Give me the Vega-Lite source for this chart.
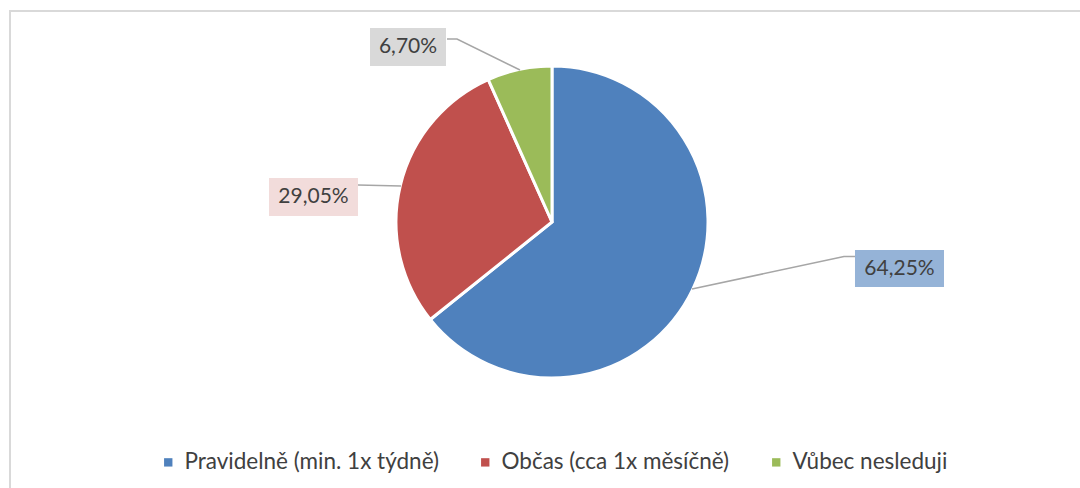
{
  "$schema": "https://vega.github.io/schema/vega-lite/v6.json",
  "width": 1072,
  "height": 479,
  "autosize": "none",
  "padding": {"left": 10, "top": 11, "right": -2, "bottom": -2},
  "background": "white",
  "view": {"stroke": "#d9d9d9", "strokeWidth": 2},
  "config": {"font": "Lato"},
  "datasets": {
    "slices": [
      {"category": "Pravidelně (min. 1x týdně)", "share": 64.25, "idx": 1},
      {"category": "Občas (cca 1x měsíčně)", "share": 29.05, "idx": 2},
      {"category": "Vůbec nesleduji", "share": 6.70, "idx": 3}
    ],
    "labels": [
      {"category": "Pravidelně (min. 1x týdně)", "text": "64,25%", "tx": 224.19, "ty": -30.0, "bx1": 195.48, "bx2": 252.9, "by1": -18.06, "by2": -41.94},
      {"category": "Občas (cca 1x měsíčně)", "text": "29,05%", "tx": -153.87, "ty": 16.13, "bx1": -182.58, "bx2": -125.16, "by1": 28.39, "by2": 3.87},
      {"category": "Vůbec nesleduji", "text": "6,70%", "tx": -92.9, "ty": 112.9, "bx1": -117.42, "bx2": -68.39, "by1": 125.16, "by2": 100.65}
    ],
    "leaders": [
      {"category": "Pravidelně (min. 1x týdně)", "step": 1, "lx": 195.48, "ly": -22.26},
      {"category": "Pravidelně (min. 1x týdně)", "step": 2, "lx": 188.39, "ly": -22.26},
      {"category": "Pravidelně (min. 1x týdně)", "step": 3, "lx": 90.32, "ly": -43.23},
      {"category": "Občas (cca 1x měsíčně)", "step": 1, "lx": -125.16, "ly": 23.87},
      {"category": "Občas (cca 1x měsíčně)", "step": 2, "lx": -97.42, "ly": 23.23},
      {"category": "Vůbec nesleduji", "step": 1, "lx": -67.74, "ly": 118.06},
      {"category": "Vůbec nesleduji", "step": 2, "lx": -61.29, "ly": 118.06},
      {"category": "Vůbec nesleduji", "step": 3, "lx": -20.65, "ly": 98.06}
    ]
  },
  "layer": [
    {
      "data": {"name": "slices"},
      "mark": {"type": "arc", "outerRadius": 156, "stroke": "white", "strokeWidth": 3},
      "encoding": {
        "theta": {"field": "share", "type": "quantitative", "stack": true},
        "order": {"field": "idx", "type": "quantitative"},
        "x": {"datum": 0, "type": "quantitative", "scale": {"domain": [-349.68, 341.94], "nice": false, "zero": false}, "axis": null},
        "y": {"datum": 0, "type": "quantitative", "scale": {"domain": [-172.9, 136.13], "nice": false, "zero": false}, "axis": null},
        "color": {
          "field": "category", "type": "nominal",
          "scale": {"domain": ["Pravidelně (min. 1x týdně)", "Občas (cca 1x měsíčně)", "Vůbec nesleduji"], "range": ["#4f81bd", "#c0504d", "#9bbb59"]},
          "legend": {
            "orient": "none", "legendX": 147, "legendY": 440, "direction": "horizontal", "title": null,
            "symbolType": "square", "symbolSize": 70, "symbolStrokeWidth": 0,
            "labelFont": "Lato", "labelFontSize": 22.5, "labelColor": "#404040",
            "columnPadding": 35, "labelOffset": 5, "labelLimit": 400
          }
        }
      }
    },
    {
      "data": {"name": "leaders"},
      "mark": {"type": "line", "color": "#a6a6a6", "strokeWidth": 1.5},
      "encoding": {
        "x": {"field": "lx", "type": "quantitative", "scale": {"domain": [-349.68, 341.94], "nice": false, "zero": false}, "axis": null},
        "y": {"field": "ly", "type": "quantitative", "scale": {"domain": [-172.9, 136.13], "nice": false, "zero": false}, "axis": null},
        "detail": {"field": "category", "type": "nominal"},
        "order": {"field": "step", "type": "quantitative"}
      }
    },
    {
      "data": {"name": "labels"},
      "mark": {"type": "rect"},
      "encoding": {
        "x": {"field": "bx1", "type": "quantitative", "scale": {"domain": [-349.68, 341.94], "nice": false, "zero": false}, "axis": null},
        "x2": {"field": "bx2"},
        "y": {"field": "by1", "type": "quantitative", "scale": {"domain": [-172.9, 136.13], "nice": false, "zero": false}, "axis": null},
        "y2": {"field": "by2"},
        "fill": {
          "field": "category", "type": "nominal",
          "scale": {"domain": ["Pravidelně (min. 1x týdně)", "Občas (cca 1x měsíčně)", "Vůbec nesleduji"], "range": ["#95b3d7", "#f2dcdb", "#d9d9d9"]},
          "legend": null
        }
      }
    },
    {
      "data": {"name": "labels"},
      "mark": {"type": "text", "font": "Lato", "fontSize": 21, "color": "#404040", "align": "center", "baseline": "middle"},
      "encoding": {
        "x": {"field": "tx", "type": "quantitative", "scale": {"domain": [-349.68, 341.94], "nice": false, "zero": false}, "axis": null},
        "y": {"field": "ty", "type": "quantitative", "scale": {"domain": [-172.9, 136.13], "nice": false, "zero": false}, "axis": null},
        "text": {"field": "text", "type": "nominal"}
      }
    }
  ]
}
